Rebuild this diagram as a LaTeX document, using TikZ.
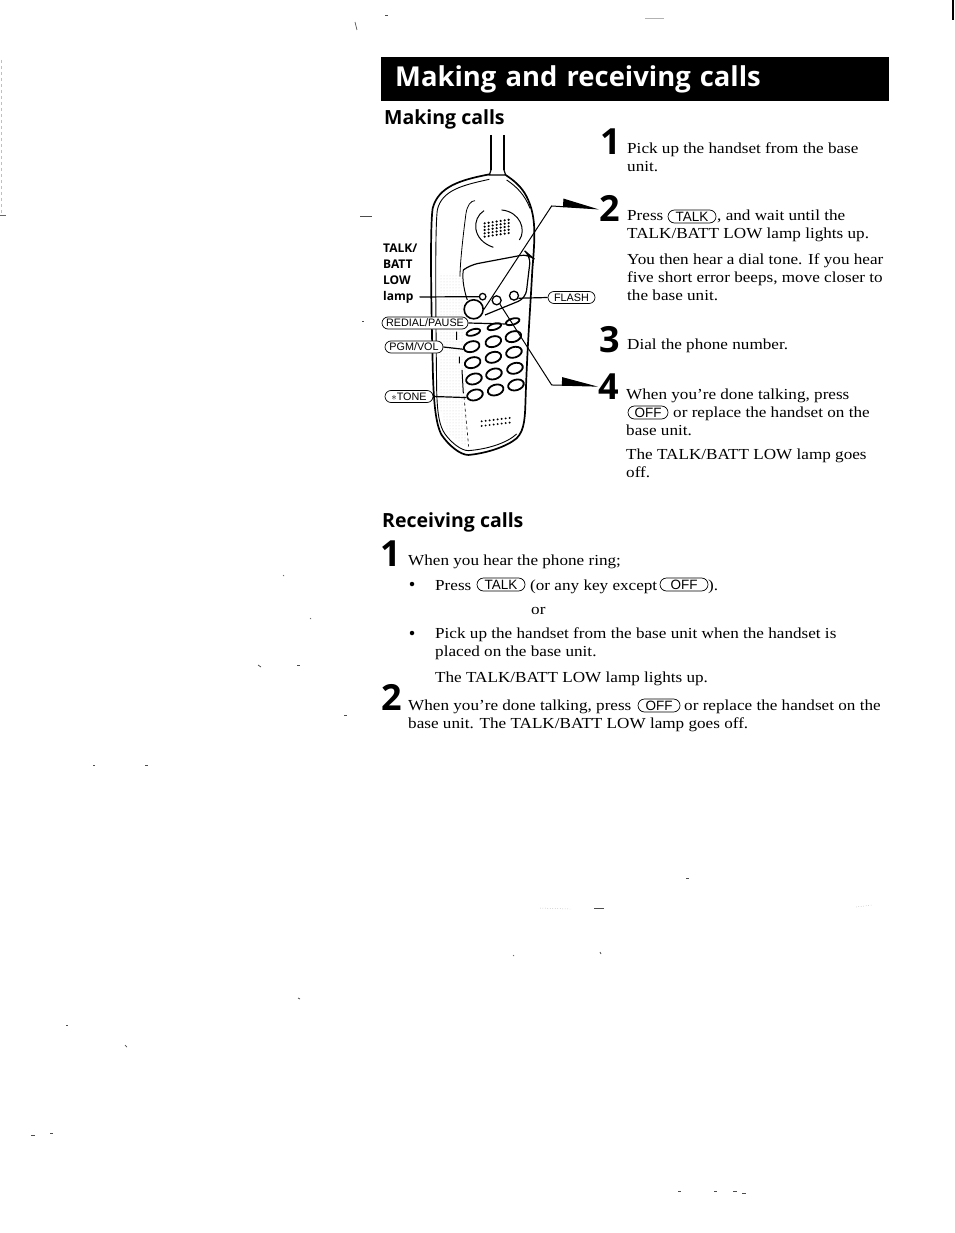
\documentclass[tikz,border=0pt]{standalone}
\usepackage{fontspec}
\setmainfont{Liberation Serif}[FakeStretch=1.12]
\setsansfont{Liberation Sans}
\newfontfamily\headfont{Open Sans}
\usetikzlibrary{arrows.meta,calc,shapes.geometric,shapes.misc,patterns}

\begin{document}
\begin{tikzpicture}
	[
	 x = 1pt,
	 y = -1pt,
	 every node/.style = {inner sep = 0pt,
		                  anchor = base west,
		                  align = left,
		                  font = \fontsize{15.3}{18}\selectfont
                         },
	 Head/.style = {font = \headfont\bfseries\fontsize{19.5}{22}\selectfont},
	 Num/.style  = {font = \headfont\bfseries\fontsize{36}{36}\selectfont},
	 Lbl/.style  = {font = \headfont\bfseries\fontsize{12}{16}\selectfont},
	 Pill/.style = {shape = rounded rectangle,
		            draw,
		            fill = white,
		            line width = .7pt,
		            anchor = center,
		            inner xsep = 0pt,
		            inner ysep = 0pt,
		            minimum height = 13pt,
		            font = \sffamily\fontsize{13.5}{13}\selectfont
                   },
	 Side/.style = {minimum height = 12pt,
		            font = \sffamily\fontsize{10.8}{11}\selectfont},
	 Key/.style  = {shape = ellipse,
		            draw,
		            line width = 1.8pt,
		            anchor = center,
		            minimum width = 16pt,
		            minimum height = 10.5pt,
		            rotate = 17
                   },
	 Dot/.style  = {shape = circle,
		            draw,
		            line width = 1.3pt,
		            anchor = center
                   },
	 Lead/.style = {line width = 1.2pt},
	 Wedge/.style = {line width = 1pt,
		             -{Triangle[length = 34pt, width = 16pt, harpoon]}},
	 Speck/.style = {line width = .7pt, black!70}
	]

	\newcommand{\YouHear}{You then hear a dial tone. If you hear\\
		five short error beeps, move closer to\\
		the base unit.}
	\newcommand{\PickUp}{Pick up the handset from the base unit when the handset is\\
		placed on the base unit.}

	\useasboundingbox (0,0) rectangle (954,1233);

	% title bar and headings
	\node [anchor = north west, fill = black, text = white, minimum width = 508pt,
	       minimum height = 44pt, text width = 480pt, inner xsep = 14pt,
	       font = \headfont\bfseries\fontsize{27.4}{28}\selectfont] (T) at (381,57) {Making and receiving calls};
	\node [Head] (H1) at (384,125) {Making calls};
	\node [Head] (H2) at (382,527) {Receiving calls};

	% step numbers
	\node [Num] (A1) at (600,155) {1};
	\node [Num] (A2) at (599,222) {2};
	\node [Num] (A3) at (599,352) {3};
	\node [Num] (A4) at (598,399) {4};
	\node [Num] (B1) at (380,566) {1};
	\node [Num] (B2) at (381,710) {2};

	% making calls, text
	\node (S1) at (627,172) {Pick up the handset from the base\\unit.};
	\node (S2a) at (627,221) {Press};
	\node [Pill, minimum width = 48pt] (TALKa) at (692,216.5) {TALK};
	\node (S2b) at (717,221) {, and wait until the};
	\node (S2c) at (627,239) {TALK/BATT LOW lamp lights up.};
	\node (S2d) at (627,300) {\YouHear};
	\node (S3) at (627,349) {Dial the phone number.};
	\node (S4a) at (626,399) {When you're done talking, press};
	\node [Pill, minimum width = 40pt] (OFFa) at (648,412.5) {OFF};
	\node (S4b) at (673,417) {or replace the handset on the};
	\node (S4c) at (626,435) {base unit.};
	\node (S4d) at (626,477) {The TALK/BATT LOW lamp goes\\off.};

	% receiving calls, text
	\node (R1) at (408,565) {When you hear the phone ring;};
	\node [shape = circle, fill, minimum size = 4.5pt, anchor = center] (Bu1) at (412,584) {};
	\node (R2a) at (435,590) {Press};
	\node [Pill, minimum width = 48pt] (TALKb) at (501,584.5) {TALK};
	\node (R2b) at (530,590) {(or any key except};
	\node [Pill, minimum width = 48pt] (OFFb) at (684,584.5) {OFF};
	\node (R2c) at (708,590) {).};
	\node (R3) at (531,614) {or};
	\node [shape = circle, fill, minimum size = 4.5pt, anchor = center] (Bu2) at (412,633) {};
	\node (R4) at (435,656) {\PickUp};
	\node (R5) at (435,682) {The TALK/BATT LOW lamp lights up.};
	\node (R6a) at (408,710) {When you're done talking, press};
	\node [Pill, minimum width = 42pt] (OFFc) at (659,705.5) {OFF};
	\node (R6b) at (684,710) {or replace the handset on the};
	\node (R6c) at (408,728) {base unit. The TALK/BATT LOW lamp goes off.};

	% handset, drawn in a third of a pixel
	\begin{scope}[shift = {(360,130)}, x = .3333pt, y = -.3333pt]
		\fill [pattern = dots, pattern color = black!18]
			(238,430) -- (305,430) -- (325,955) -- (262,910) -- (236,820) -- cycle;
		\draw [line width = 1.2pt] (393,15) -- (393,120) (432,15) -- (432,120);
		\draw [line width = 1.2pt] (393,120) -- (388,135) -- (437,135) -- (432,120);
		\draw [line width = 1.7pt] (388,133) .. controls (300,150) and (235,170) .. (218,235)
			.. controls (210,290) and (213,500) .. (218,700)
			.. controls (220,800) and (225,880) .. (245,915)
			.. controls (265,945) and (300,975) .. (325,975)
			.. controls (380,970) and (440,950) .. (470,925)
			.. controls (495,900) and (495,860) .. (497,800)
			.. controls (502,650) and (510,550) .. (517,420)
			.. controls (525,320) and (530,260) .. (500,200)
			.. controls (485,170) and (460,150) .. (437,135);
		\draw [line width = .9pt] (388,148) .. controls (310,165) and (245,180) .. (232,240)
			.. controls (224,300) and (228,600) .. (230,780)
			.. controls (232,860) and (240,890) .. (255,912)
			.. controls (275,940) and (305,962) .. (325,962)
			.. controls (380,958) and (440,940) .. (470,912);
		\draw [line width = .9pt] (440,150) .. controls (470,170) and (495,195) .. (510,235);
		\draw [line width = .8pt] (345,212) .. controls (333,212) and (322,225) .. (318,250)
			.. controls (310,310) and (300,400) .. (300,440);
		\draw [line width = 1pt] (372,242) .. controls (335,265) and (335,330) .. (400,352);
		\draw [line width = 1pt] (425,240) .. controls (480,245) and (500,300) .. (478,330);
		\draw [line width = 1.2pt, rounded corners = 8pt] (310,420) -- (330,405) -- (505,372)
			-- (512,378) -- (497,505) -- (375,555);
		\draw [line width = 1pt] (310,420) .. controls (305,450) and (315,490) .. (322,510);
		\foreach \x in {374,386,...,455}
			\foreach \y in {0,10,...,40}
				\fill (\x,{320-(\x-374)*.15-\y}) circle (3.6);
		\foreach \x in {365,377,...,460}
			\foreach \y in {0,14}
				\fill (\x,{888-(\x-365)*.12-\y}) circle (3.2);
		\draw [line width = 1pt] (290,605) -- (290,630) (298,680) -- (298,700)
			(306,720) -- (310,790);
		\draw [line width = .6pt, dashed] (312,800) -- (326,950);

		\node [Dot, minimum size = 6.5pt] (LAMP) at (368,500) {};
		\node [Dot, minimum size = 19pt, line width = 1.6pt] (BIG) at (341,538) {};
		\node [Dot, minimum size = 9pt] (MID) at (410,511) {};
		\node [Dot, minimum size = 9pt] (RGT) at (462,497) {};

		\foreach \nm/\xc/\yc in {K1/340/607, K2/403/590, K3/458/575}
			\node [Key, minimum width = 14pt, minimum height = 6pt] (\nm) at (\xc,\yc) {};
		\foreach \nm/\xc/\yc in {P1/335/650, P2/400/635, P3/460/620,
		                         Q1/338/698, Q2/400/682, Q3/462/667,
		                         M1/342/747, M2/402/732, M3/465/715,
		                         N1/345/795, N2/407/780, N3/468/765}
			\node [Key] (\nm) at (\xc,\yc) {};

		\coordinate (C2) at (575,228);
		\coordinate (C4) at (575,765);
	\end{scope}

	% labels round the handset
	\node [Lbl] (L1) at (383,300) {TALK/\\BATT\\LOW\\lamp};
	\node [Pill, Side, minimum width = 47pt] (FLASH) at (571.5,297.5) {FLASH};
	\node [Pill, Side, minimum width = 86pt] (REDIAL) at (425,323) {REDIAL/PAUSE};
	\node [Pill, Side, minimum width = 58pt] (PGM) at (414,347) {PGM/VOL};
	\node [Pill, Side, minimum width = 48pt] (TONE) at (409,396.5) {$\ast$TONE};

	\draw [Wedge] (BIG.east) -- (C2) -- (A2.west);
	\draw [Wedge] (MID.-50) -- (C4) -- (A4.west);
	\draw [Lead] ($(L1.base east)+(2,-3)$) -- (LAMP.west);
	\draw [Lead] (RGT.-30) -- (FLASH.west);
	\draw [Lead] (REDIAL.east) -- (K3.west);
	\draw [Lead] (PGM.east) -- (P1.west);
	\draw [Lead] (TONE.east) -- (N1.west);

	% specks of the scan
	\foreach \xa/\ya/\xb/\yb in {360/216/372/216, 362/321/364/321, 258/665/261/667, 297/665/300/665,
	                             344/715/347/715, 93/765/95/765, 145/765/148/765, 686/878/689/878,
	                             594/908/604/908, 513/955/514/956, 600/952/601/954,
	                             66/1025/68/1025, 125/1045/127/1047, 298/998/300/999, 678/1191/681/1191,
	                             714/1191/717/1191, 733/1191/737/1191, 742/1193/746/1193, 31/1135/35/1135,
	                             50/1133/53/1133, 310/618/311/619, 283/575/284/576, 355/22/357/30,
	                             385/15/388/15}
		\draw [Speck] (\xa,\ya) -- (\xb,\yb);
	\draw [line width = .5pt, black!40, dotted] (540,908) -- (570,909);
	\draw [line width = .5pt, black!40, dotted] (856,907) -- (872,905);
	\draw [line width = .4pt, black!30] (645,18) -- (664,18);
	\draw [line width = 1.5pt] (953,0) -- (953,20);
	\draw [line width = .4pt, black!25, dashed] (1,60) -- (1,215);
	\draw [line width = .6pt, black!60] (0,215) -- (6,215);
\end{tikzpicture}
\end{document}
